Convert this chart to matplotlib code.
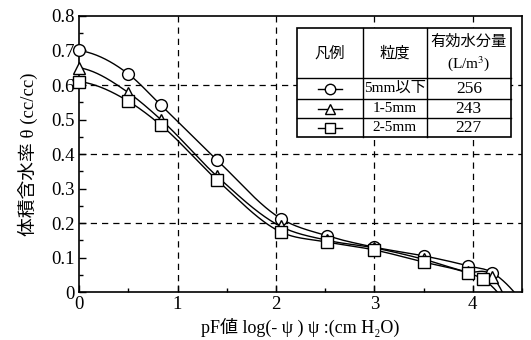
import numpy as np
import matplotlib
matplotlib.use('Agg')
from matplotlib import pyplot as plt
from matplotlib.ticker import MultipleLocator

plt.rcParams['mathtext.fontset'] = 'stix'
SERIF = ['Liberation Serif', 'DejaVu Serif', 'Noto Sans CJK JP']
CJK = ['Noto Sans CJK JP', 'Liberation Serif']

# data
pf = [0, 0.5, 0.83, 1.4, 2.05, 2.52, 3.0, 3.5, 3.95, 4.2]
pf_sq = [0, 0.5, 0.83, 1.4, 2.05, 2.52, 3.0, 3.5, 3.95, 4.1]
theta_small = [0.70, 0.632, 0.542, 0.383, 0.213, 0.163, 0.13, 0.105, 0.076, 0.056]
theta_15 = [0.65, 0.578, 0.50, 0.336, 0.19, 0.15, 0.128, 0.095, 0.058, 0.045]
theta_25 = [0.61, 0.553, 0.484, 0.325, 0.174, 0.145, 0.122, 0.087, 0.055, 0.038]
# x where fitted curve reaches zero
end_x = [4.42, 4.3, 4.25]

labels = ['5mm以下', '1-5mm', '2-5mm']
water = [256, 243, 227]
markers = ['o', '^', 's']


def smooth_curve(x, y, xs):
    x = np.asarray(x, float)
    y = np.asarray(y, float)
    h = np.diff(x)
    d = np.diff(y) / h
    m = np.zeros_like(y)
    for k in range(1, len(x) - 1):
        m[k] = (h[k] * d[k - 1] + h[k - 1] * d[k]) / (h[k - 1] + h[k])
    m[0] = d[0] * 0.3
    m[-1] = d[-1] * 1.3
    out = np.empty_like(xs)
    for i, xv in enumerate(xs):
        k = min(max(np.searchsorted(x, xv) - 1, 0), len(x) - 2)
        t = (xv - x[k]) / h[k]
        h00 = 2 * t**3 - 3 * t**2 + 1
        h10 = t**3 - 2 * t**2 + t
        h01 = -2 * t**3 + 3 * t**2
        h11 = t**3 - t**2
        out[i] = h00 * y[k] + h10 * h[k] * m[k] + h01 * y[k + 1] + h11 * h[k] * m[k + 1]
    return out


fig, ax = plt.subplots(figsize=(5.31, 3.4), dpi=100)
fig.subplots_adjust(left=0.149, right=0.983, top=0.953, bottom=0.141)

series = [(pf, theta_small), (pf, theta_15), (pf_sq, theta_25)]
for (xs, ys), mk, ex in zip(series, markers, end_x):
    xx = list(xs) + [ex]
    yy = list(ys) + [0.0]
    xf = np.linspace(0, ex, 400)
    ax.plot(xf, smooth_curve(xx, yy, xf), color='black', lw=1.0, zorder=3)
    ax.plot(xs, ys, linestyle='none', marker=mk, ms=8.5, mfc='white',
            mec='black', mew=1.0, zorder=4, clip_on=False)

ax.set_xlim(0, 4.5)
ax.set_ylim(0, 0.8)
ax.xaxis.set_major_locator(MultipleLocator(1))
ax.xaxis.set_minor_locator(MultipleLocator(0.5))
ax.yaxis.set_minor_locator(MultipleLocator(0.05))
ax.tick_params(which='both', direction='in', length=5, width=1)
ax.tick_params(which='minor', length=3)
ax.set_yticks([0, 0.1, 0.2, 0.3, 0.4, 0.5, 0.6, 0.7, 0.8])
ax.set_yticklabels(['0', '0.1', '0.2', '0.3', '0.4', '0.5', '0.6', '0.7', '0.8'])
for lab in ax.get_xticklabels() + ax.get_yticklabels():
    lab.set_family(SERIF)
    lab.set_fontsize(13.5)
ax.tick_params(axis='x', pad=3)
ax.tick_params(axis='y', pad=3)

for gx in [1, 2, 3, 4]:
    ax.axvline(gx, color='black', lw=0.9, ls=(0, (5, 4)), zorder=1)
for gy in [0.2, 0.4, 0.6]:
    ax.axhline(gy, color='black', lw=0.9, ls=(0, (5, 4)), zorder=1)
for sp in ax.spines.values():
    sp.set_linewidth(1.2)

ax.set_xlabel('pF値 log(- ψ ) ψ :(cm H₂O)', family=SERIF, fontsize=13, labelpad=3)
ax.set_ylabel('体積含水率 θ (cc/cc)', family=SERIF, fontsize=13.5, labelpad=10)

# legend table, placed by pixel positions
col = [(297 - 79) / 98.5, (363 - 79) / 98.5, (427 - 79) / 98.5, (511 - 79) / 98.5]
row = [(292 - 28) / 345, (292 - 78) / 345, (292 - 99) / 345, (292 - 118) / 345, (292 - 137) / 345]
ax.add_patch(plt.Rectangle((col[0], row[4]), col[3] - col[0], row[0] - row[4],
                           facecolor='white', edgecolor='black', lw=1.2, zorder=6))
for c in col[1:3]:
    ax.plot([c, c], [row[4], row[0]], color='black', lw=1.0, zorder=7)
for r in row[1:4]:
    ax.plot([col[0], col[3]], [r, r], color='black', lw=1.0, zorder=7)

cx = [(col[i] + col[i + 1]) / 2 for i in range(3)]
hy = (row[0] + row[1]) / 2
ax.text(cx[0], hy, '凡例', ha='center', va='center', family=CJK, fontsize=11, zorder=8)
ax.text(cx[1], hy, '粒度', ha='center', va='center', family=CJK, fontsize=11, zorder=8)
ax.text(cx[2], hy + 0.035, '有効水分量', ha='center', va='center', family=CJK, fontsize=11, zorder=8)
ax.text(cx[2], hy - 0.03, r'(L/m$^3$)', ha='center', va='center', family=SERIF, fontsize=11, zorder=8)
for i in range(3):
    ry = (row[i + 1] + row[i + 2]) / 2
    ax.plot([cx[0] - 0.12, cx[0] + 0.12], [ry, ry], color='black', lw=1.0, zorder=8)
    ax.plot([cx[0]], [ry], marker=markers[i], ms=7.5, mfc='white', mec='black', mew=1.0, zorder=9)
    ax.text(cx[1], ry, labels[i], ha='center', va='center', family=SERIF, fontsize=11, zorder=8)
    ax.text(cx[2], ry, str(water[i]), ha='center', va='center', family=SERIF, fontsize=12.5, zorder=8)

fig.savefig('out.png', dpi=100)
